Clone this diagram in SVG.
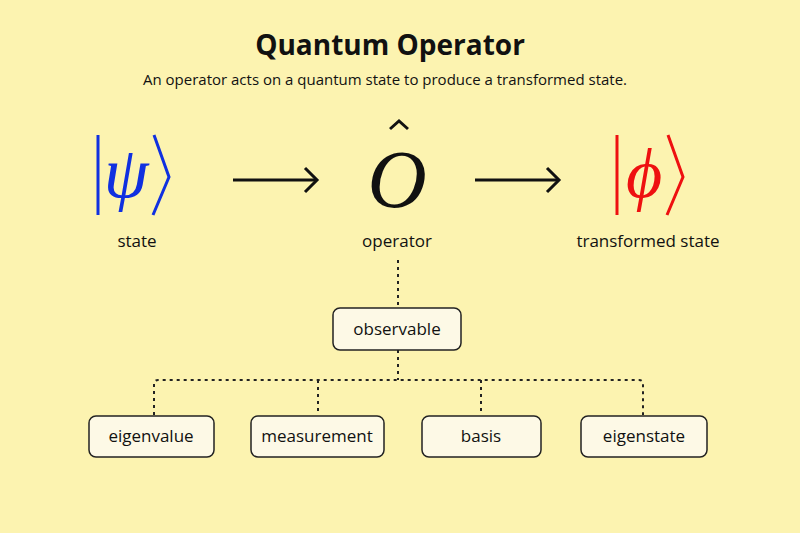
<svg xmlns="http://www.w3.org/2000/svg" width="800" height="533" viewBox="0 0 800 533">
<style>
.t{font-family:"Open Sans","Liberation Sans",sans-serif;fill:#111}
.m{font-family:"Liberation Serif","DejaVu Serif",serif;font-style:italic}
.box{fill:#fdf9e6;stroke:#222;stroke-width:1.5}
.lbl{font-family:"Open Sans","Liberation Sans",sans-serif;font-size:17px;fill:#111;text-anchor:middle}
.d{fill:none;stroke:#222;stroke-width:2;stroke-dasharray:3 4}
.ar{stroke:#111;stroke-width:3;fill:none}
</style>
<rect width="800" height="533" fill="#fcf3b0"/>
<text class="t" x="390" y="55" font-size="28" font-weight="bold" text-anchor="middle">Quantum Operator</text>
<text class="t" x="385" y="85" font-size="15" text-anchor="middle">An operator acts on a quantum state to produce a transformed state.</text>
<g id="state">
<line x1="98" y1="135" x2="98" y2="215" stroke="#1030e0" stroke-width="3"/>
<text class="m" x="126" y="197" font-size="72" fill="#1030e0" text-anchor="middle">ψ</text>
<polyline points="154,135 169,177 153,215" fill="none" stroke="#1030e0" stroke-width="3"/>
<text class="t" x="137" y="247" font-size="17" text-anchor="middle">state</text>
</g>
<g id="operator">
<text class="m" x="397" y="207" font-size="82" fill="#111" text-anchor="middle">O</text>
<polyline points="390,129 399,121 408,129" fill="none" stroke="#111" stroke-width="3"/>
<text class="t" x="397" y="247" font-size="17" text-anchor="middle">operator</text>
</g>
<g id="transformed">
<line x1="617" y1="135" x2="617" y2="215" stroke="#ee1010" stroke-width="3"/>
<text class="m" x="644" y="197" font-size="70" fill="#ee1010" text-anchor="middle">ϕ</text>
<polyline points="668,135 683,177 667,215" fill="none" stroke="#ee1010" stroke-width="3"/>
<text class="t" x="648" y="247" font-size="17" text-anchor="middle">transformed state</text>
</g>
<g id="connectors">
<line class="ar" x1="233" y1="180" x2="316" y2="180"/>
<polyline class="ar" points="305,168 317,180 305,192"/>
<line class="ar" x1="475" y1="180" x2="558" y2="180"/>
<polyline class="ar" points="547,168 559,180 547,192"/>
<line class="d" x1="398" y1="260" x2="398" y2="308"/>
<line class="d" x1="398" y1="350" x2="398" y2="380"/>
<path class="d" d="M154,415 V384 Q154,380 158,380 H639 Q643,380 643,384 V415"/>
<line class="d" x1="318" y1="380" x2="318" y2="415"/>
<line class="d" x1="481" y1="380" x2="481" y2="415"/>
</g>
<g id="observable"><rect class="box" x="333" y="308" width="128" height="42" rx="7"/><text class="lbl" x="397" y="335">observable</text></g>
<g id="eigenvalue"><rect class="box" x="89" y="416" width="125" height="41" rx="7"/><text class="lbl" x="151" y="442">eigenvalue</text></g>
<g id="measurement"><rect class="box" x="251" y="416" width="133" height="41" rx="7"/><text class="lbl" x="317" y="442">measurement</text></g>
<g id="basis"><rect class="box" x="422" y="416" width="119" height="41" rx="7"/><text class="lbl" x="481" y="442">basis</text></g>
<g id="eigenstate"><rect class="box" x="581" y="416" width="126" height="41" rx="7"/><text class="lbl" x="644" y="442">eigenstate</text></g>
</svg>
